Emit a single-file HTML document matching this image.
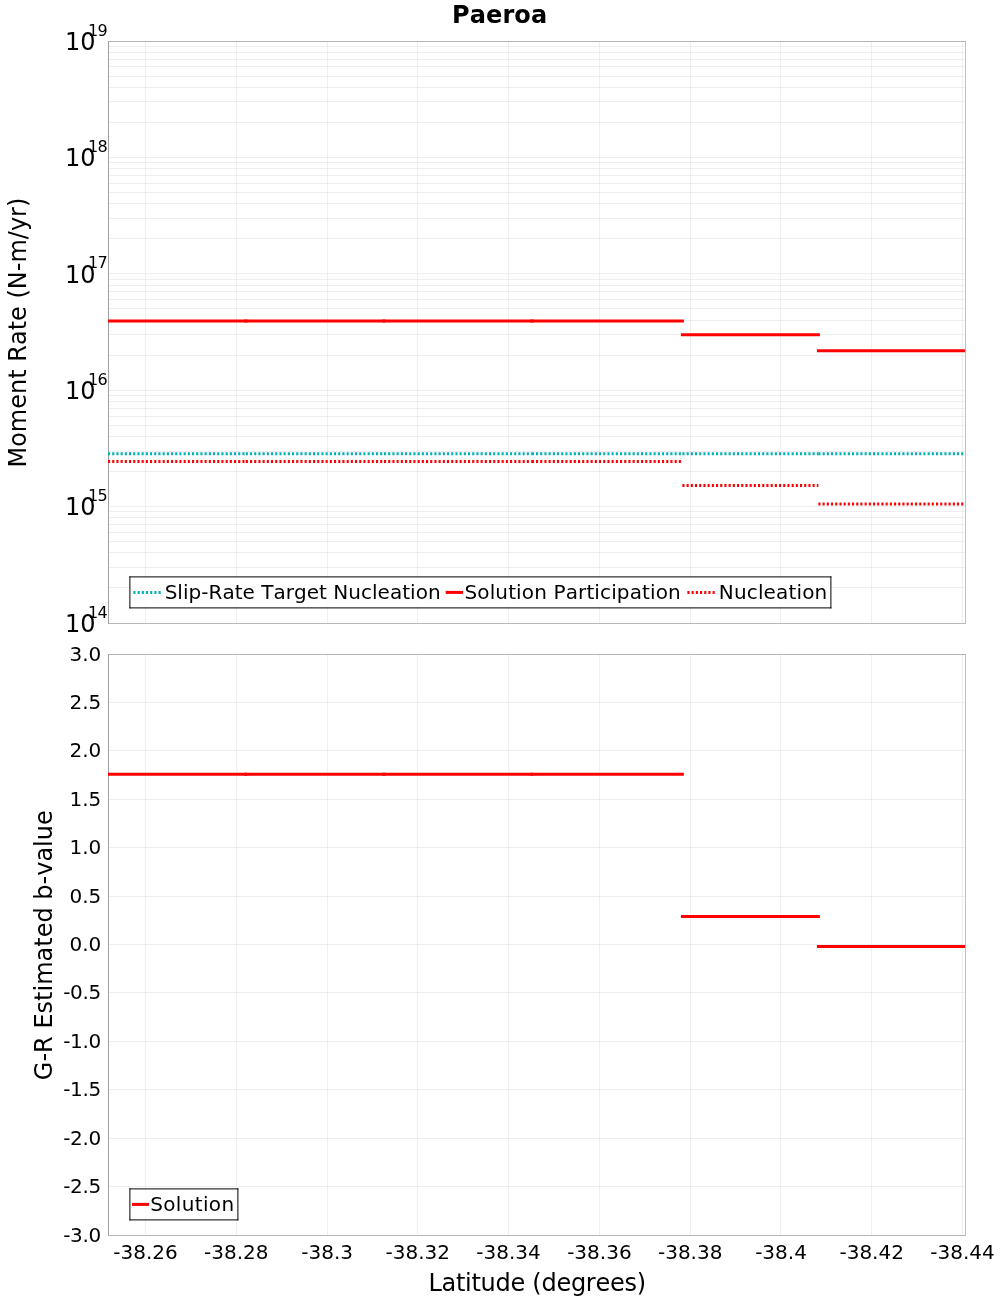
<!DOCTYPE html>
<html lang="en"><head><meta charset="utf-8"><title>Paeroa</title>
<style>html,body{margin:0;padding:0;background:#fff;}svg{display:block;will-change:transform;}text{font-family:"DejaVu Sans", "Liberation Sans", sans-serif;fill:#000;font-kerning:none;}</style>
</head><body>
<svg width="1000" height="1300" viewBox="0 0 1000 1300">
<rect x="0" y="0" width="1000" height="1300" fill="#ffffff"/>
<defs>
<clipPath id="c1"><rect x="108" y="41" width="857" height="583"/></clipPath>
<clipPath id="c2"><rect x="108" y="654" width="857" height="582"/></clipPath>
</defs>
<text id="title" x="452.07" y="23.0" font-size="24" textLength="95.02" lengthAdjust="spacing" font-weight="bold">Paeroa</text>
<g id="grid1">
<rect x="145" y="42" width="1" height="581" fill="rgba(220,220,220,0.45)"/>
<rect x="236" y="42" width="1" height="581" fill="rgba(220,220,220,0.45)"/>
<rect x="327" y="42" width="1" height="581" fill="rgba(220,220,220,0.45)"/>
<rect x="417" y="42" width="1" height="581" fill="rgba(220,220,220,0.45)"/>
<rect x="508" y="42" width="1" height="581" fill="rgba(220,220,220,0.45)"/>
<rect x="599" y="42" width="1" height="581" fill="rgba(220,220,220,0.45)"/>
<rect x="690" y="42" width="1" height="581" fill="rgba(220,220,220,0.45)"/>
<rect x="780" y="42" width="1" height="581" fill="rgba(220,220,220,0.45)"/>
<rect x="871" y="42" width="1" height="581" fill="rgba(220,220,220,0.45)"/>
<rect x="962" y="42" width="1" height="581" fill="rgba(220,220,220,0.45)"/>
<rect x="109" y="587" width="856" height="1" fill="rgba(220,220,220,0.45)"/>
<rect x="109" y="567" width="856" height="1" fill="rgba(220,220,220,0.45)"/>
<rect x="109" y="552" width="856" height="1" fill="rgba(220,220,220,0.45)"/>
<rect x="109" y="541" width="856" height="1" fill="rgba(220,220,220,0.45)"/>
<rect x="109" y="532" width="856" height="1" fill="rgba(220,220,220,0.45)"/>
<rect x="109" y="524" width="856" height="1" fill="rgba(220,220,220,0.45)"/>
<rect x="109" y="517" width="856" height="1" fill="rgba(220,220,220,0.45)"/>
<rect x="109" y="511" width="856" height="1" fill="rgba(220,220,220,0.45)"/>
<rect x="109" y="506" width="856" height="1" fill="rgba(220,220,220,0.45)"/>
<rect x="109" y="471" width="856" height="1" fill="rgba(220,220,220,0.45)"/>
<rect x="109" y="451" width="856" height="1" fill="rgba(220,220,220,0.45)"/>
<rect x="109" y="436" width="856" height="1" fill="rgba(220,220,220,0.45)"/>
<rect x="109" y="425" width="856" height="1" fill="rgba(220,220,220,0.45)"/>
<rect x="109" y="416" width="856" height="1" fill="rgba(220,220,220,0.45)"/>
<rect x="109" y="408" width="856" height="1" fill="rgba(220,220,220,0.45)"/>
<rect x="109" y="401" width="856" height="1" fill="rgba(220,220,220,0.45)"/>
<rect x="109" y="395" width="856" height="1" fill="rgba(220,220,220,0.45)"/>
<rect x="109" y="390" width="856" height="1" fill="rgba(220,220,220,0.45)"/>
<rect x="109" y="355" width="856" height="1" fill="rgba(220,220,220,0.45)"/>
<rect x="109" y="334" width="856" height="1" fill="rgba(220,220,220,0.45)"/>
<rect x="109" y="320" width="856" height="1" fill="rgba(220,220,220,0.45)"/>
<rect x="109" y="308" width="856" height="1" fill="rgba(220,220,220,0.45)"/>
<rect x="109" y="299" width="856" height="1" fill="rgba(220,220,220,0.45)"/>
<rect x="109" y="291" width="856" height="1" fill="rgba(220,220,220,0.45)"/>
<rect x="109" y="285" width="856" height="1" fill="rgba(220,220,220,0.45)"/>
<rect x="109" y="279" width="856" height="1" fill="rgba(220,220,220,0.45)"/>
<rect x="109" y="273" width="856" height="1" fill="rgba(220,220,220,0.45)"/>
<rect x="109" y="238" width="856" height="1" fill="rgba(220,220,220,0.45)"/>
<rect x="109" y="218" width="856" height="1" fill="rgba(220,220,220,0.45)"/>
<rect x="109" y="203" width="856" height="1" fill="rgba(220,220,220,0.45)"/>
<rect x="109" y="192" width="856" height="1" fill="rgba(220,220,220,0.45)"/>
<rect x="109" y="183" width="856" height="1" fill="rgba(220,220,220,0.45)"/>
<rect x="109" y="175" width="856" height="1" fill="rgba(220,220,220,0.45)"/>
<rect x="109" y="168" width="856" height="1" fill="rgba(220,220,220,0.45)"/>
<rect x="109" y="162" width="856" height="1" fill="rgba(220,220,220,0.45)"/>
<rect x="109" y="157" width="856" height="1" fill="rgba(220,220,220,0.45)"/>
<rect x="109" y="122" width="856" height="1" fill="rgba(220,220,220,0.45)"/>
<rect x="109" y="101" width="856" height="1" fill="rgba(220,220,220,0.45)"/>
<rect x="109" y="87" width="856" height="1" fill="rgba(220,220,220,0.45)"/>
<rect x="109" y="76" width="856" height="1" fill="rgba(220,220,220,0.45)"/>
<rect x="109" y="66" width="856" height="1" fill="rgba(220,220,220,0.45)"/>
<rect x="109" y="59" width="856" height="1" fill="rgba(220,220,220,0.45)"/>
<rect x="109" y="52" width="856" height="1" fill="rgba(220,220,220,0.45)"/>
<rect x="109" y="46" width="856" height="1" fill="rgba(220,220,220,0.45)"/>
</g>
<rect x="109" y="41" width="857" height="1" fill="#b5b5b5"/>
<rect x="965" y="42" width="1" height="582" fill="#c0c0c0"/>
<rect x="109" y="623" width="856" height="1" fill="#b9b9b9"/>
<rect x="108" y="41" width="1" height="583" fill="#a0a0a0"/>
<g clip-path="url(#c1)" stroke="#00b2b2" stroke-width="3" stroke-dasharray="2.1 2.1" fill="none">
<line x1="108.00" y1="453.80" x2="245.80" y2="453.80"/>
<line x1="245.80" y1="453.80" x2="384.00" y2="453.80"/>
<line x1="384.00" y1="453.80" x2="531.80" y2="453.80"/>
<line x1="531.80" y1="453.80" x2="682.40" y2="453.80"/>
<line x1="682.40" y1="453.80" x2="818.40" y2="453.80"/>
<line x1="818.40" y1="453.80" x2="965.00" y2="453.80"/>
</g>
<g clip-path="url(#c1)" stroke="#ff0000" stroke-width="3" stroke-linecap="square" fill="none">
<line x1="108.00" y1="320.90" x2="245.80" y2="320.90"/>
<line x1="245.80" y1="320.90" x2="384.00" y2="320.90"/>
<line x1="384.00" y1="320.90" x2="531.80" y2="320.90"/>
<line x1="531.80" y1="320.90" x2="682.40" y2="320.90"/>
<line x1="682.40" y1="334.70" x2="818.40" y2="334.70"/>
<line x1="818.40" y1="350.75" x2="965.00" y2="350.75"/>
</g>
<g clip-path="url(#c1)" stroke="#ff0000" stroke-width="3" stroke-dasharray="2.1 2.1" fill="none">
<line x1="108.00" y1="461.50" x2="245.80" y2="461.50"/>
<line x1="245.80" y1="461.50" x2="384.00" y2="461.50"/>
<line x1="384.00" y1="461.50" x2="531.80" y2="461.50"/>
<line x1="531.80" y1="461.50" x2="682.40" y2="461.50"/>
<line x1="682.40" y1="485.50" x2="818.40" y2="485.50"/>
<line x1="818.40" y1="504.00" x2="965.00" y2="504.00"/>
</g>
<text x="95.6" y="632.0" font-size="24" text-anchor="end">10</text>
<text x="107.7" y="618.0" font-size="16" text-anchor="end" textLength="19.6" lengthAdjust="spacing">14</text>
<text x="95.6" y="515.0" font-size="24" text-anchor="end">10</text>
<text x="107.7" y="501.0" font-size="16" text-anchor="end" textLength="19.6" lengthAdjust="spacing">15</text>
<text x="95.6" y="399.0" font-size="24" text-anchor="end">10</text>
<text x="107.7" y="385.0" font-size="16" text-anchor="end" textLength="19.6" lengthAdjust="spacing">16</text>
<text x="95.6" y="283.0" font-size="24" text-anchor="end">10</text>
<text x="107.7" y="268.0" font-size="16" text-anchor="end" textLength="19.6" lengthAdjust="spacing">17</text>
<text x="95.6" y="166.0" font-size="24" text-anchor="end">10</text>
<text x="107.7" y="152.0" font-size="16" text-anchor="end" textLength="19.6" lengthAdjust="spacing">18</text>
<text x="95.6" y="50.0" font-size="24" text-anchor="end">10</text>
<text x="107.7" y="36.0" font-size="16" text-anchor="end" textLength="19.6" lengthAdjust="spacing">19</text>
<text transform="translate(26.0,332.6) rotate(-90)" font-size="24" text-anchor="middle">Moment Rate (N-m/yr)</text>
<rect x="129.9" y="576.9" width="701.0" height="31.0" fill="rgba(255,255,255,0.8)"/>
<g stroke="#000" stroke-width="1" stroke-linecap="square" fill="none">
<line x1="129.9" y1="576.9" x2="830.9" y2="576.9"/>
<line x1="129.9" y1="607.9" x2="830.9" y2="607.9"/>
<line x1="129.9" y1="576.9" x2="129.9" y2="607.9"/>
<line x1="830.9" y1="576.9" x2="830.9" y2="607.9"/>
</g>
<line x1="133.4" y1="592.4" x2="161.4" y2="592.4" stroke="#00b2b2" stroke-width="3" stroke-dasharray="2.1 2.1"/>
<text id="leg1" x="164.64" y="598.9" font-size="20" textLength="275.98" lengthAdjust="spacing">Slip-Rate Target Nucleation</text>
<line x1="447.2" y1="592.4" x2="461.5" y2="592.4" stroke="#ff0000" stroke-width="3" stroke-linecap="square"/>
<text id="leg2" x="464.44" y="598.9" font-size="20" textLength="216.35" lengthAdjust="spacing">Solution Participation</text>
<line x1="687.4" y1="592.4" x2="715.4" y2="592.4" stroke="#ff0000" stroke-width="3" stroke-dasharray="2.1 2.1"/>
<text id="leg3" x="718.84" y="598.9" font-size="20" textLength="108.38" lengthAdjust="spacing">Nucleation</text>
<g id="grid2">
<rect x="145" y="655" width="1" height="580" fill="rgba(220,220,220,0.45)"/>
<rect x="236" y="655" width="1" height="580" fill="rgba(220,220,220,0.45)"/>
<rect x="327" y="655" width="1" height="580" fill="rgba(220,220,220,0.45)"/>
<rect x="417" y="655" width="1" height="580" fill="rgba(220,220,220,0.45)"/>
<rect x="508" y="655" width="1" height="580" fill="rgba(220,220,220,0.45)"/>
<rect x="599" y="655" width="1" height="580" fill="rgba(220,220,220,0.45)"/>
<rect x="690" y="655" width="1" height="580" fill="rgba(220,220,220,0.45)"/>
<rect x="780" y="655" width="1" height="580" fill="rgba(220,220,220,0.45)"/>
<rect x="871" y="655" width="1" height="580" fill="rgba(220,220,220,0.45)"/>
<rect x="962" y="655" width="1" height="580" fill="rgba(220,220,220,0.45)"/>
<rect x="109" y="702" width="856" height="1" fill="rgba(220,220,220,0.45)"/>
<rect x="109" y="750" width="856" height="1" fill="rgba(220,220,220,0.45)"/>
<rect x="109" y="799" width="856" height="1" fill="rgba(220,220,220,0.45)"/>
<rect x="109" y="847" width="856" height="1" fill="rgba(220,220,220,0.45)"/>
<rect x="109" y="896" width="856" height="1" fill="rgba(220,220,220,0.45)"/>
<rect x="109" y="944" width="856" height="1" fill="rgba(220,220,220,0.45)"/>
<rect x="109" y="992" width="856" height="1" fill="rgba(220,220,220,0.45)"/>
<rect x="109" y="1041" width="856" height="1" fill="rgba(220,220,220,0.45)"/>
<rect x="109" y="1089" width="856" height="1" fill="rgba(220,220,220,0.45)"/>
<rect x="109" y="1138" width="856" height="1" fill="rgba(220,220,220,0.45)"/>
<rect x="109" y="1186" width="856" height="1" fill="rgba(220,220,220,0.45)"/>
</g>
<rect x="109" y="654" width="857" height="1" fill="#b5b5b5"/>
<rect x="965" y="655" width="1" height="581" fill="#c0c0c0"/>
<rect x="109" y="1235" width="856" height="1" fill="#b9b9b9"/>
<rect x="108" y="654" width="1" height="582" fill="#a0a0a0"/>
<g clip-path="url(#c2)" stroke="#ff0000" stroke-width="3" stroke-linecap="square" fill="none">
<line x1="108.00" y1="774.30" x2="245.80" y2="774.30"/>
<line x1="245.80" y1="774.30" x2="384.00" y2="774.30"/>
<line x1="384.00" y1="774.30" x2="531.80" y2="774.30"/>
<line x1="531.80" y1="774.30" x2="682.40" y2="774.30"/>
<line x1="682.40" y1="916.45" x2="818.40" y2="916.45"/>
<line x1="818.40" y1="946.45" x2="965.00" y2="946.45"/>
</g>
<text x="101.3" y="661.0" font-size="20" text-anchor="end">3.0</text>
<text x="101.3" y="709.0" font-size="20" text-anchor="end">2.5</text>
<text x="101.3" y="757.0" font-size="20" text-anchor="end">2.0</text>
<text x="101.3" y="806.0" font-size="20" text-anchor="end">1.5</text>
<text x="101.3" y="854.0" font-size="20" text-anchor="end">1.0</text>
<text x="101.3" y="903.0" font-size="20" text-anchor="end">0.5</text>
<text x="101.3" y="951.0" font-size="20" text-anchor="end">0.0</text>
<text x="101.3" y="999.0" font-size="20" text-anchor="end" textLength="38.1" lengthAdjust="spacing">-0.5</text>
<text x="101.3" y="1048.0" font-size="20" text-anchor="end" textLength="38.1" lengthAdjust="spacing">-1.0</text>
<text x="101.3" y="1096.0" font-size="20" text-anchor="end" textLength="38.1" lengthAdjust="spacing">-1.5</text>
<text x="101.3" y="1145.0" font-size="20" text-anchor="end" textLength="38.1" lengthAdjust="spacing">-2.0</text>
<text x="101.3" y="1193.0" font-size="20" text-anchor="end" textLength="38.1" lengthAdjust="spacing">-2.5</text>
<text x="101.3" y="1242.0" font-size="20" text-anchor="end" textLength="38.1" lengthAdjust="spacing">-3.0</text>
<text transform="translate(52.0,945.2) rotate(-90)" font-size="24" text-anchor="middle">G-R Estimated b-value</text>
<rect x="129.9" y="1188.9" width="108.0" height="31.0" fill="rgba(255,255,255,0.8)"/>
<g stroke="#000" stroke-width="1" stroke-linecap="square" fill="none">
<line x1="129.9" y1="1188.9" x2="237.9" y2="1188.9"/>
<line x1="129.9" y1="1219.9" x2="237.9" y2="1219.9"/>
<line x1="129.9" y1="1188.9" x2="129.9" y2="1219.9"/>
<line x1="237.9" y1="1188.9" x2="237.9" y2="1219.9"/>
</g>
<line x1="133.5" y1="1204.4" x2="147.5" y2="1204.4" stroke="#ff0000" stroke-width="3" stroke-linecap="square"/>
<text id="leg4" x="150.24" y="1210.9" font-size="20" textLength="83.90" lengthAdjust="spacing">Solution</text>
<text x="145.5" y="1259.2" font-size="20" text-anchor="middle">-38.26</text>
<text x="236.3" y="1259.2" font-size="20" text-anchor="middle">-38.28</text>
<text x="327.1" y="1259.2" font-size="20" text-anchor="middle">-38.3</text>
<text x="417.8" y="1259.2" font-size="20" text-anchor="middle">-38.32</text>
<text x="508.6" y="1259.2" font-size="20" text-anchor="middle">-38.34</text>
<text x="599.4" y="1259.2" font-size="20" text-anchor="middle">-38.36</text>
<text x="690.2" y="1259.2" font-size="20" text-anchor="middle">-38.38</text>
<text x="781.0" y="1259.2" font-size="20" text-anchor="middle">-38.4</text>
<text x="871.7" y="1259.2" font-size="20" text-anchor="middle">-38.42</text>
<text x="962.5" y="1259.2" font-size="20" text-anchor="middle">-38.44</text>
<text id="xlabel" x="428.39" y="1290.6" font-size="24" textLength="217.64" lengthAdjust="spacing">Latitude (degrees)</text>
</svg></body></html>
